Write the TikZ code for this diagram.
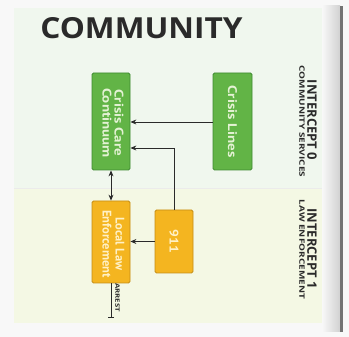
\documentclass[tikz,border=0pt]{standalone}
\usepackage{fontspec}
\setmainfont{Open Sans}
\newfontfamily\boxfont{PT Sans}
\usetikzlibrary{arrows.meta}
\definecolor{outbg}{HTML}{F8F8F8}
\definecolor{topbg}{HTML}{F0F7EE}
\definecolor{botbg}{HTML}{F4F8E4}
\definecolor{gfill}{HTML}{62B446}
\definecolor{gdraw}{HTML}{3F8A32}
\definecolor{yfill}{HTML}{F4B520}
\definecolor{ydraw}{HTML}{C48D15}
\definecolor{gtext}{HTML}{E4F2D4}
\definecolor{ytext}{HTML}{FFF1C6}
\definecolor{ink}{HTML}{2A2A2A}
\tikzset{
  gbox/.style={draw=gdraw, fill=gfill, line width=0.8pt, rounded corners=1.5pt, inner sep=0pt},
  ybox/.style={draw=ydraw, fill=yfill, line width=0.8pt, rounded corners=1.5pt, inner sep=0pt},
  boxtext/.style={rotate=-90, align=center, font=\boxfont\fontsize{12.5}{12.5}\selectfont\bfseries, inner sep=0pt},
  conn/.style={draw=ink, line width=0.8pt},
  arr/.style={conn, -{Stealth[length=6pt,width=5pt]}},
  darr/.style={conn, {Stealth[length=6pt,width=5pt]}-{Stealth[length=6pt,width=5pt]}},
  sidetitle/.style={rotate=-90, font=\fontsize{13}{13}\selectfont\bfseries, text=ink, inner sep=0pt},
  sidesub/.style={rotate=-90, font=\fontsize{7.4}{8}\selectfont\bfseries, text=ink, inner sep=0pt}
}
\begin{document}
\begin{tikzpicture}[x=1pt,y=-1pt]
\useasboundingbox (0,0) rectangle (349,337);
\fill[outbg] (0,0) rectangle (349,337);
% right gray band
\shade[left color=outbg, right color=black!18] (322,6) rectangle (340,332);
\fill[black!55] (340,6) rectangle (342.5,332);
% panels
\fill[topbg] (14,8) rectangle (322,188);
\fill[botbg] (14,188) rectangle (322,323);
\draw[black!8, line width=0.6pt] (14,188) -- (322,188);
% title
\node[font=\fontsize{29}{30}\selectfont\bfseries, text=ink, inner sep=0pt] (title) at (141.5,28) {\scalebox{1.09}[1]{COMMUNITY}};
% boxes
\node[gbox, minimum width=38pt, minimum height=97pt] (ccc) at (111,121.5) {};
\node[gbox, minimum width=39pt, minimum height=97pt] (cl) at (232.5,121.5) {};
\node[ybox, minimum width=38pt, minimum height=82pt] (lle) at (111,242) {};
\node[ybox, minimum width=38pt, minimum height=63pt] (n911) at (174,241.5) {};
% box texts
\node[boxtext, text=gtext, font=\boxfont\fontsize{12.5}{12}\selectfont\bfseries] (ccct) at (113,123) {\scalebox{1.2}[1]{Crisis Care}\\\scalebox{1.2}[1]{Continuum}};
\node[boxtext, text=gtext] (clt) at (cl.center) {\scalebox{1.2}[1]{Crisis Lines}};
\node[boxtext, text=ytext, font=\boxfont\fontsize{12.5}{13}\selectfont\bfseries] (llet) at (113.5,244) {Local Law\\Enforcement};
\node[boxtext, text=ytext] (n911t) at (n911.center) {\scalebox{1.1}[1]{911}};
% connectors
\coordinate (a1) at (0,122);
\coordinate (a2) at (0,148);
\draw[arr] (cl.west |- a1) -- (ccc.east |- a1);
\draw[arr] (n911.north) |- (ccc.east |- a2);
\draw[darr] (ccc.south) -- (lle.north);
\draw[arr] (n911.west) -- (lle.east |- n911.west);
\coordinate (arrestend) at (111,318);
\draw[conn, -{Bar[width=6pt]}] (lle.south) -- (arrestend);
\node[rotate=-90, font=\fontsize{6}{6}\selectfont\bfseries, text=ink, inner sep=0pt] (arrest) at (117.5,297.5) {\scalebox{1.3}[1]{ARREST}};
% side labels
\node[sidetitle] (i0) at (312,120) {INTERCEPT 0};
\node[sidesub] (i0s) at (302,121.5) {\scalebox{1.35}[1]{COMMUNITY SERVICES}};
\node[sidetitle] (i1) at (312,248.5) {INTERCEPT 1};
\node[sidesub] (i1s) at (302,249.5) {\scalebox{1.35}[1]{LAW ENFORCEMENT}};
\end{tikzpicture}
\end{document}
